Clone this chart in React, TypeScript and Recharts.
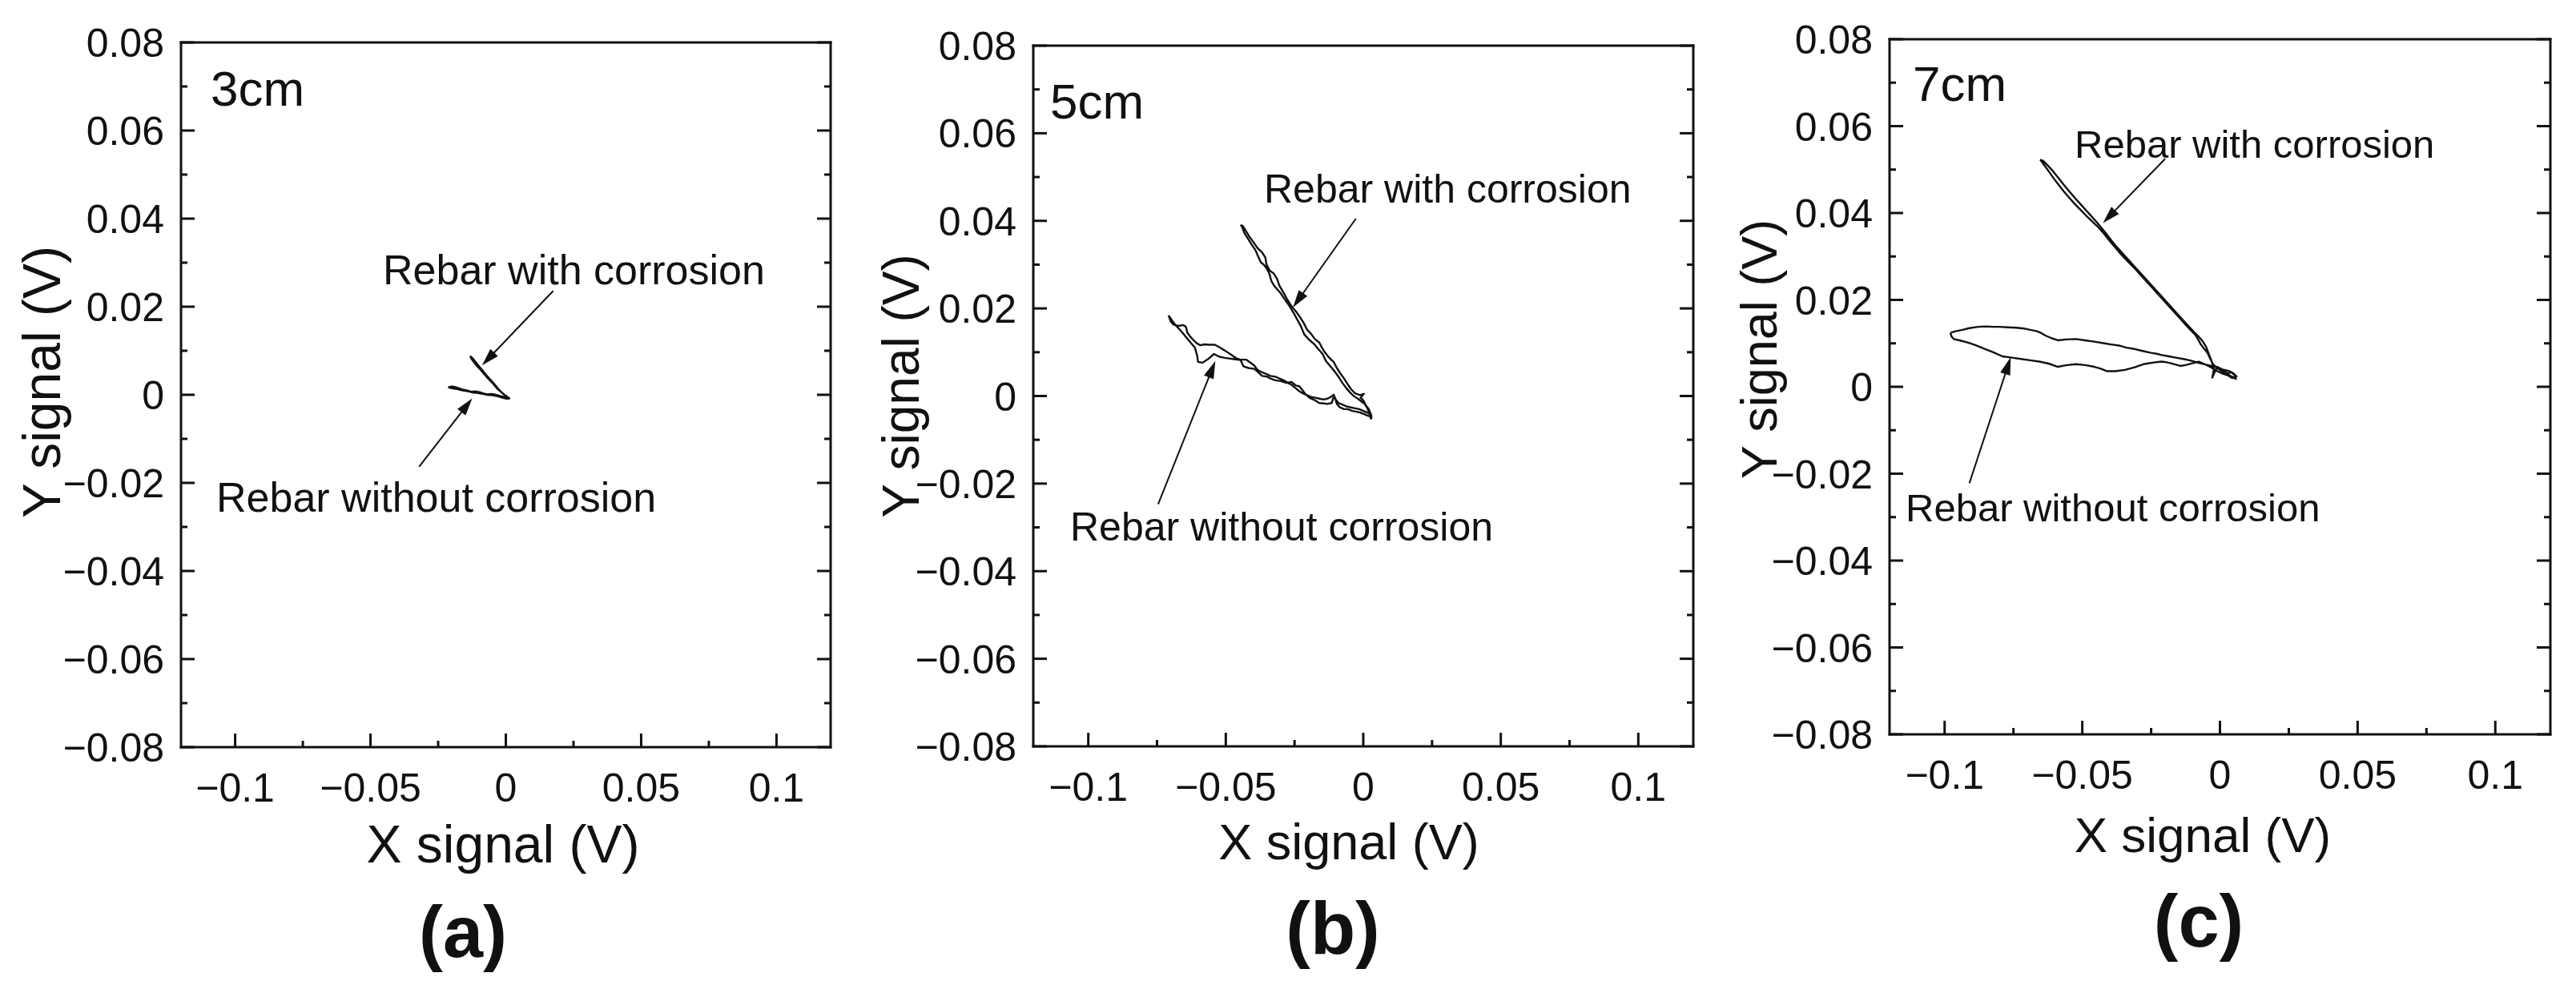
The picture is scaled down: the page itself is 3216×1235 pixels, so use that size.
import React from 'react';
import { ScatterChart, Scatter, XAxis, YAxis, ReferenceLine } from 'recharts';

// ---------- axis values & tick labels ----------
const xDomain: [number, number] = [-0.12, 0.12];
const yDomain: [number, number] = [-0.08, 0.08];
const xMajorTicks = [-0.1, -0.05, 0, 0.05, 0.1];
const xTickLabels = ['−0.1', '−0.05', '0', '0.05', '0.1'];
const xMinorTicks = [-0.075, -0.025, 0.025, 0.075];
const yMajorTicks = [-0.08, -0.06, -0.04, -0.02, 0, 0.02, 0.04, 0.06, 0.08];
const yTickLabels = ['−0.08', '−0.06', '−0.04', '−0.02', '0', '0.02', '0.04', '0.06', '0.08'];
const yMinorTicks = [-0.07, -0.05, -0.03, -0.01, 0.01, 0.03, 0.05, 0.07];

const panelTags = ['3cm', '5cm', '7cm'];
const panelLetters = ['(a)', '(b)', '(c)'];
const xAxisTitle = 'X signal (V)';
const yAxisTitle = 'Y signal (V)';
const withLabel = 'Rebar with corrosion';
const withoutLabel = 'Rebar without corrosion';

// ---------- series values (x, y) in volts ----------
const a3WithCorrosion: number[][] = [
  [-0.0132, 0.0088], [-0.0125, 0.0080], [-0.0110, 0.0068], [-0.0095, 0.0058], [-0.0080, 0.0047],
  [-0.0064, 0.0036], [-0.0048, 0.0026], [-0.0032, 0.0014], [-0.0017, 0.0006], [0.0000, -0.0002],
  [0.0013, -0.0008], [0.0006, -0.0006], [-0.0010, 0.0002], [-0.0026, 0.0012], [-0.0042, 0.0024],
  [-0.0058, 0.0035], [-0.0074, 0.0046], [-0.0090, 0.0058], [-0.0106, 0.0070], [-0.0120, 0.0081],
  [-0.0132, 0.0088],
];
const a3WithoutCorrosion: number[][] = [
  [-0.0213, 0.0017], [-0.0200, 0.0019], [-0.0189, 0.0018], [-0.0175, 0.0015], [-0.0160, 0.0012],
  [-0.0145, 0.0010], [-0.0128, 0.0007], [-0.0112, 0.0008], [-0.0098, 0.0006], [-0.0082, 0.0003],
  [-0.0068, 0.0001], [-0.0052, 0.0002], [-0.0037, 0.0000], [-0.0020, -0.0003], [-0.0007, -0.0005],
  [0.0005, -0.0007], [0.0013, -0.0008], [0.0002, -0.0009], [-0.0015, -0.0006], [-0.0032, -0.0003],
  [-0.0050, -0.0001], [-0.0068, 0.0000], [-0.0085, 0.0002], [-0.0102, 0.0004], [-0.0120, 0.0005],
  [-0.0140, 0.0008], [-0.0160, 0.0010], [-0.0180, 0.0013], [-0.0200, 0.0015], [-0.0213, 0.0017],
];

const b5WithCorrosion: number[][] = [
  [-0.0446, 0.0391], [-0.0440, 0.0385], [-0.0432, 0.0372], [-0.0420, 0.0360], [-0.0405, 0.0345],
  [-0.0392, 0.0333], [-0.0382, 0.0318], [-0.0372, 0.0305], [-0.0362, 0.0300], [-0.0352, 0.0292],
  [-0.0342, 0.0280], [-0.0334, 0.0262], [-0.0322, 0.0250], [-0.0302, 0.0236], [-0.0286, 0.0221],
  [-0.0268, 0.0205], [-0.0252, 0.0188], [-0.0238, 0.0172], [-0.0226, 0.0158], [-0.0214, 0.0140],
  [-0.0196, 0.0128], [-0.0178, 0.0118], [-0.0162, 0.0106], [-0.0148, 0.0096], [-0.0136, 0.0080],
  [-0.0120, 0.0068], [-0.0104, 0.0056], [-0.0090, 0.0044], [-0.0076, 0.0030], [-0.0062, 0.0018],
  [-0.0048, 0.0008], [-0.0035, 0.0000], [-0.0020, -0.0006], [-0.0008, -0.0012], [0.0005, -0.0018],
  [0.0015, -0.0028], [0.0022, -0.0040], [0.0028, -0.0052], [0.0030, -0.0046], [0.0020, -0.0030],
  [0.0010, -0.0022], [0.0000, -0.0010], [-0.0010, -0.0004], [0.0002, 0.0005], [-0.0012, 0.0002],
  [-0.0030, 0.0006], [-0.0045, 0.0016], [-0.0058, 0.0028], [-0.0070, 0.0040], [-0.0084, 0.0052],
  [-0.0096, 0.0064], [-0.0108, 0.0078], [-0.0125, 0.0088], [-0.0140, 0.0100], [-0.0150, 0.0110],
  [-0.0160, 0.0122], [-0.0176, 0.0130], [-0.0190, 0.0142], [-0.0205, 0.0152], [-0.0216, 0.0166],
  [-0.0230, 0.0180], [-0.0246, 0.0194], [-0.0262, 0.0206], [-0.0278, 0.0222], [-0.0292, 0.0238],
  [-0.0305, 0.0252], [-0.0314, 0.0268], [-0.0326, 0.0280], [-0.0340, 0.0286], [-0.0352, 0.0300],
  [-0.0356, 0.0316], [-0.0368, 0.0328], [-0.0385, 0.0338], [-0.0398, 0.0350], [-0.0412, 0.0362],
  [-0.0425, 0.0375], [-0.0438, 0.0388], [-0.0446, 0.0391],
];
const b5WithoutCorrosion: number[][] = [
  [-0.0708, 0.0184], [-0.0700, 0.0170], [-0.0690, 0.0163], [-0.0672, 0.0160], [-0.0655, 0.0162],
  [-0.0645, 0.0158], [-0.0640, 0.0145], [-0.0630, 0.0136], [-0.0618, 0.0128], [-0.0605, 0.0120],
  [-0.0592, 0.0116], [-0.0578, 0.0118], [-0.0562, 0.0117], [-0.0540, 0.0117], [-0.0525, 0.0112],
  [-0.0504, 0.0104], [-0.0480, 0.0094], [-0.0462, 0.0086], [-0.0448, 0.0083], [-0.0426, 0.0083],
  [-0.0410, 0.0076], [-0.0397, 0.0070], [-0.0385, 0.0060], [-0.0368, 0.0054], [-0.0352, 0.0050],
  [-0.0338, 0.0046], [-0.0320, 0.0044], [-0.0305, 0.0040], [-0.0290, 0.0036], [-0.0275, 0.0030],
  [-0.0262, 0.0026], [-0.0250, 0.0020], [-0.0235, 0.0012], [-0.0220, 0.0006], [-0.0205, 0.0002],
  [-0.0190, -0.0002], [-0.0175, -0.0004], [-0.0160, -0.0006], [-0.0145, -0.0008], [-0.0130, -0.0006],
  [-0.0118, -0.0002], [-0.0108, 0.0003], [-0.0100, -0.0008], [-0.0090, -0.0016], [-0.0075, -0.0020],
  [-0.0060, -0.0024], [-0.0045, -0.0026], [-0.0030, -0.0028], [-0.0015, -0.0030], [0.0000, -0.0034],
  [0.0015, -0.0038], [0.0028, -0.0042], [0.0020, -0.0046], [0.0005, -0.0042], [-0.0010, -0.0038],
  [-0.0025, -0.0036], [-0.0040, -0.0034], [-0.0057, -0.0030], [-0.0070, -0.0030], [-0.0085, -0.0026],
  [-0.0096, -0.0018], [-0.0106, 0.0001], [-0.0115, -0.0016], [-0.0130, -0.0018], [-0.0144, -0.0017],
  [-0.0160, -0.0016], [-0.0175, -0.0010], [-0.0193, -0.0005], [-0.0210, 0.0004], [-0.0232, 0.0022],
  [-0.0245, 0.0024], [-0.0261, 0.0032], [-0.0280, 0.0030], [-0.0300, 0.0034], [-0.0320, 0.0036],
  [-0.0338, 0.0040], [-0.0349, 0.0044], [-0.0368, 0.0046], [-0.0385, 0.0056], [-0.0397, 0.0062],
  [-0.0418, 0.0064], [-0.0436, 0.0068], [-0.0446, 0.0082], [-0.0470, 0.0084], [-0.0504, 0.0087],
  [-0.0525, 0.0090], [-0.0543, 0.0096], [-0.0565, 0.0084], [-0.0585, 0.0076], [-0.0601, 0.0078],
  [-0.0604, 0.0092], [-0.0612, 0.0110], [-0.0628, 0.0122], [-0.0645, 0.0135], [-0.0662, 0.0148],
  [-0.0680, 0.0160], [-0.0695, 0.0172], [-0.0708, 0.0184],
];

const c7WithCorrosion: number[][] = [
  [-0.0653, 0.0523], [-0.0640, 0.0512], [-0.0622, 0.0496], [-0.0604, 0.0480], [-0.0585, 0.0464],
  [-0.0566, 0.0449], [-0.0546, 0.0434], [-0.0526, 0.0420], [-0.0506, 0.0407], [-0.0486, 0.0394],
  [-0.0466, 0.0382], [-0.0446, 0.0370], [-0.0426, 0.0356], [-0.0406, 0.0340], [-0.0386, 0.0325],
  [-0.0366, 0.0310], [-0.0346, 0.0296], [-0.0326, 0.0283], [-0.0306, 0.0270], [-0.0286, 0.0256],
  [-0.0266, 0.0242], [-0.0246, 0.0228], [-0.0226, 0.0214], [-0.0206, 0.0200], [-0.0186, 0.0186],
  [-0.0166, 0.0172], [-0.0146, 0.0158], [-0.0126, 0.0144], [-0.0106, 0.0130], [-0.0090, 0.0120],
  [-0.0080, 0.0110], [-0.0070, 0.0098], [-0.0058, 0.0088], [-0.0045, 0.0078], [-0.0035, 0.0064],
  [-0.0025, 0.0052], [-0.0012, 0.0044], [0.0005, 0.0036], [0.0020, 0.0030], [0.0035, 0.0026],
  [0.0048, 0.0022], [0.0058, 0.0018], [0.0052, 0.0028], [0.0040, 0.0034], [0.0030, 0.0030],
  [0.0010, 0.0038], [-0.0010, 0.0046], [-0.0028, 0.0021], [-0.0022, 0.0040], [-0.0030, 0.0058],
  [-0.0042, 0.0078], [-0.0050, 0.0092], [-0.0062, 0.0104], [-0.0078, 0.0116], [-0.0094, 0.0126],
  [-0.0112, 0.0138], [-0.0132, 0.0152], [-0.0152, 0.0166], [-0.0172, 0.0180], [-0.0192, 0.0194],
  [-0.0212, 0.0208], [-0.0232, 0.0222], [-0.0252, 0.0236], [-0.0272, 0.0250], [-0.0292, 0.0264],
  [-0.0312, 0.0278], [-0.0332, 0.0292], [-0.0352, 0.0306], [-0.0372, 0.0320], [-0.0392, 0.0335],
  [-0.0410, 0.0350], [-0.0428, 0.0364], [-0.0446, 0.0378], [-0.0466, 0.0392], [-0.0486, 0.0406],
  [-0.0506, 0.0420], [-0.0526, 0.0434], [-0.0546, 0.0449], [-0.0566, 0.0464], [-0.0586, 0.0480],
  [-0.0606, 0.0496], [-0.0626, 0.0510], [-0.0642, 0.0520], [-0.0653, 0.0523],
];
const c7WithoutCorrosion: number[][] = [
  [-0.0979, 0.0124], [-0.0960, 0.0128], [-0.0935, 0.0131], [-0.0910, 0.0135], [-0.0879, 0.0138],
  [-0.0850, 0.0139], [-0.0825, 0.0138], [-0.0801, 0.0138], [-0.0770, 0.0137], [-0.0740, 0.0136],
  [-0.0710, 0.0134], [-0.0689, 0.0131], [-0.0665, 0.0128], [-0.0650, 0.0124], [-0.0634, 0.0118],
  [-0.0612, 0.0112], [-0.0589, 0.0107], [-0.0560, 0.0109], [-0.0523, 0.0110], [-0.0490, 0.0107],
  [-0.0456, 0.0104], [-0.0420, 0.0100], [-0.0390, 0.0097], [-0.0367, 0.0095], [-0.0340, 0.0090],
  [-0.0310, 0.0087], [-0.0278, 0.0082], [-0.0250, 0.0078], [-0.0230, 0.0076], [-0.0211, 0.0073],
  [-0.0185, 0.0070], [-0.0160, 0.0067], [-0.0133, 0.0064], [-0.0105, 0.0060], [-0.0077, 0.0055],
  [-0.0050, 0.0051], [-0.0025, 0.0047], [-0.0010, 0.0045], [0.0010, 0.0040], [0.0034, 0.0036],
  [0.0050, 0.0030], [0.0060, 0.0024], [0.0045, 0.0020], [0.0030, 0.0026], [0.0010, 0.0030],
  [-0.0010, 0.0036], [-0.0030, 0.0044], [-0.0055, 0.0052], [-0.0077, 0.0058], [-0.0100, 0.0054],
  [-0.0125, 0.0050], [-0.0144, 0.0048], [-0.0165, 0.0052], [-0.0190, 0.0056], [-0.0211, 0.0058],
  [-0.0240, 0.0056], [-0.0278, 0.0052], [-0.0310, 0.0045], [-0.0345, 0.0039], [-0.0380, 0.0036],
  [-0.0411, 0.0036], [-0.0435, 0.0042], [-0.0456, 0.0046], [-0.0490, 0.0050], [-0.0523, 0.0052],
  [-0.0555, 0.0050], [-0.0589, 0.0046], [-0.0620, 0.0053], [-0.0656, 0.0058], [-0.0690, 0.0061],
  [-0.0723, 0.0064], [-0.0755, 0.0067], [-0.0790, 0.0070], [-0.0825, 0.0080], [-0.0857, 0.0088],
  [-0.0885, 0.0095], [-0.0912, 0.0101], [-0.0940, 0.0106], [-0.0967, 0.0110], [-0.0975, 0.0116],
  [-0.0979, 0.0124],
];

// annotation arrows: [tailX, tailY, headX, headY]
const a3Arrows: number[][] = [
  [0.0175, 0.0236, -0.0088, 0.0067],
  [-0.032, -0.0163, -0.0124, -0.0008],
];
const b5Arrows: number[][] = [
  [-0.0027, 0.0405, -0.0256, 0.0202],
  [-0.0746, -0.0247, -0.0538, 0.0080],
];
const c7Arrows: number[][] = [
  [-0.0199, 0.0525, -0.0425, 0.0377],
  [-0.091, -0.0222, -0.076, 0.0068],
];

// ---------- styling ----------
const FONT = "'Liberation Sans', Arial, Helvetica, sans-serif";
const INK = '#111111';
const MAJ = 17;
const MIN = 8;
const LW = 220;
const BH = 120;
const TH = 40;
const RW = 20;

const toPts = (a: number[][]) => a.map(([x, y]) => ({ x, y }));
const findLabel = (v: number, majors: number[], labels: string[]) => {
  const i = majors.findIndex((m) => Math.abs(m - v) < 1e-9);
  return i >= 0 ? labels[i] : null;
};

const BottomTick = (props: any) => {
  const { x, y, payload } = props;
  const lab = findLabel(payload.value, xMajorTicks, xTickLabels);
  return (
    <g>
      <line x1={x} x2={x} y1={y} y2={y - (lab !== null ? MAJ : MIN)} stroke={INK} strokeWidth={3} />
      {lab !== null && (
        <text x={x} y={y + 68} textAnchor="middle" fontSize={50} fontFamily={FONT} fill={INK}>
          {lab}
        </text>
      )}
    </g>
  );
};
const TopTick = (props: any) => {
  const { x, y, payload } = props;
  const lab = findLabel(payload.value, xMajorTicks, xTickLabels);
  return <line x1={x} x2={x} y1={y} y2={y + (lab !== null ? MAJ : MIN)} stroke={INK} strokeWidth={3} />;
};
const LeftTick = (props: any) => {
  const { x, y, payload } = props;
  const lab = findLabel(payload.value, yMajorTicks, yTickLabels);
  return (
    <g>
      <line x1={x} x2={x + (lab !== null ? MAJ : MIN)} y1={y} y2={y} stroke={INK} strokeWidth={3} />
      {lab !== null && (
        <text x={x - 21} y={y + 18} textAnchor="end" fontSize={50} fontFamily={FONT} fill={INK}>
          {lab}
        </text>
      )}
    </g>
  );
};
const RightTick = (props: any) => {
  const { x, y, payload } = props;
  const lab = findLabel(payload.value, yMajorTicks, yTickLabels);
  return <line x1={x} x2={x - (lab !== null ? MAJ : MIN)} y1={y} y2={y} stroke={INK} strokeWidth={3} />;
};

const NoShape = () => <g />;

const ArrowShape = (p: any) => {
  const { x1, y1, x2, y2 } = p;
  if ([x1, y1, x2, y2].some((v) => typeof v !== 'number' || isNaN(v))) return <g />;
  const dx = x2 - x1;
  const dy = y2 - y1;
  const L = Math.hypot(dx, dy) || 1;
  const ux = dx / L;
  const uy = dy / L;
  const hl = 22;
  const hw = 6.5;
  const bx = x2 - ux * hl;
  const by = y2 - uy * hl;
  return (
    <g>
      <line x1={x1} y1={y1} x2={bx + ux * 2} y2={by + uy * 2} stroke={INK} strokeWidth={2} />
      <polygon
        points={`${x2},${y2} ${bx - uy * hw},${by + ux * hw} ${bx + uy * hw},${by - ux * hw}`}
        fill={INK}
      />
    </g>
  );
};

const axisLineStyle = { stroke: INK, strokeWidth: 3, strokeLinecap: 'square' as const };
const xTicksAll = [...xMajorTicks, ...xMinorTicks].sort((a, b) => a - b);
const yTicksAll = [...yMajorTicks, ...yMinorTicks].sort((a, b) => a - b);

type PanelProps = {
  left: number;
  top: number;
  w: number;
  h: number;
  withData: number[][];
  withoutData: number[][];
  arrows: number[][];
};

function Panel({ left, top, w, h, withData, withoutData, arrows }: PanelProps) {
  return (
    <div style={{ position: 'absolute', left: left - LW, top: top - TH }}>
      <ScatterChart width={LW + w + RW} height={TH + h + BH} margin={{ top: 0, right: 0, bottom: 0, left: 0 }}>
        <XAxis
          xAxisId="b"
          orientation="bottom"
          type="number"
          dataKey="x"
          domain={xDomain}
          allowDataOverflow
          ticks={xTicksAll}
          interval={0}
          tickSize={0}
          tickMargin={0}
          tickLine={false}
          tick={BottomTick}
          axisLine={axisLineStyle}
          height={BH}
        />
        <XAxis
          xAxisId="t"
          orientation="top"
          type="number"
          domain={xDomain}
          allowDataOverflow
          ticks={xTicksAll}
          interval={0}
          tickSize={0}
          tickMargin={0}
          tickLine={false}
          tick={TopTick}
          axisLine={axisLineStyle}
          height={TH}
        />
        <YAxis
          yAxisId="l"
          orientation="left"
          type="number"
          dataKey="y"
          domain={yDomain}
          allowDataOverflow
          ticks={yTicksAll}
          interval={0}
          tickSize={0}
          tickMargin={0}
          tickLine={false}
          tick={LeftTick}
          axisLine={axisLineStyle}
          width={LW}
        />
        <YAxis
          yAxisId="r"
          orientation="right"
          type="number"
          domain={yDomain}
          allowDataOverflow
          ticks={yTicksAll}
          interval={0}
          tickSize={0}
          tickMargin={0}
          tickLine={false}
          tick={RightTick}
          axisLine={axisLineStyle}
          width={RW}
        />
        <Scatter
          xAxisId="b"
          yAxisId="l"
          data={toPts(withoutData)}
          line={{ stroke: INK, strokeWidth: 2.4, strokeLinejoin: 'round' }}
          lineType="joint"
          shape={NoShape}
          fill={INK}
          isAnimationActive={false}
        />
        <Scatter
          xAxisId="b"
          yAxisId="l"
          data={toPts(withData)}
          line={{ stroke: INK, strokeWidth: 2.4, strokeLinejoin: 'round' }}
          lineType="joint"
          shape={NoShape}
          fill={INK}
          isAnimationActive={false}
        />
        {arrows.map((a, i) => (
          <ReferenceLine
            key={i}
            xAxisId="b"
            yAxisId="l"
            segment={[
              { x: a[0], y: a[1] },
              { x: a[2], y: a[3] },
            ]}
            ifOverflow="visible"
            shape={ArrowShape}
          />
        ))}
      </ScatterChart>
    </div>
  );
}

type TextSpec = { t: string; x: number; y: number; size: number; anchor?: string; bold?: boolean; rot?: boolean };

const texts: TextSpec[] = [
  // panel a
  { t: panelTags[0], x: 263, y: 132, size: 62 },
  { t: withLabel, x: 478, y: 355, size: 52 },
  { t: withoutLabel, x: 270, y: 639, size: 52 },
  { t: yAxisTitle, x: 75, y: 477, size: 66, anchor: 'middle', rot: true },
  { t: xAxisTitle, x: 628, y: 1077, size: 66, anchor: 'middle' },
  { t: panelLetters[0], x: 578, y: 1195, size: 90, anchor: 'middle', bold: true },
  // panel b
  { t: panelTags[1], x: 1311, y: 148, size: 62 },
  { t: withLabel, x: 1578, y: 253, size: 50 },
  { t: withoutLabel, x: 1336, y: 675, size: 50 },
  { t: yAxisTitle, x: 1147, y: 482, size: 64, anchor: 'middle', rot: true },
  { t: xAxisTitle, x: 1684, y: 1073, size: 63, anchor: 'middle' },
  { t: panelLetters[1], x: 1664, y: 1191, size: 92, anchor: 'middle', bold: true },
  // panel c
  { t: panelTags[2], x: 2388, y: 126, size: 62 },
  { t: withLabel, x: 2590, y: 197, size: 49 },
  { t: withoutLabel, x: 2379, y: 651, size: 49 },
  { t: yAxisTitle, x: 2218, y: 436, size: 63, anchor: 'middle', rot: true },
  { t: xAxisTitle, x: 2750, y: 1064, size: 62, anchor: 'middle' },
  { t: panelLetters[2], x: 2745, y: 1182, size: 92, anchor: 'middle', bold: true },
];

export default function App() {
  return (
    <div style={{ position: 'absolute', left: 0, top: 0, width: 3216, height: 1235, background: '#ffffff', overflow: 'hidden' }}>
      <Panel left={226} top={53} w={811} h={880} withData={a3WithCorrosion} withoutData={a3WithoutCorrosion} arrows={a3Arrows} />
      <Panel left={1290} top={57} w={824} h={875} withData={b5WithCorrosion} withoutData={b5WithoutCorrosion} arrows={b5Arrows} />
      <Panel left={2359} top={49} w={825} h={868} withData={c7WithCorrosion} withoutData={c7WithoutCorrosion} arrows={c7Arrows} />
      <svg
        width={3216}
        height={1235}
        style={{ position: 'absolute', left: 0, top: 0, pointerEvents: 'none' }}
      >
        {texts.map((s, i) => (
          <text
            key={i}
            x={s.x}
            y={s.y}
            fontSize={s.size}
            fontFamily={FONT}
            fontWeight={s.bold ? 700 : 400}
            textAnchor={(s.anchor as any) || 'start'}
            fill={INK}
            transform={s.rot ? `rotate(-90 ${s.x} ${s.y})` : undefined}
          >
            {s.t}
          </text>
        ))}
      </svg>
    </div>
  );
}
